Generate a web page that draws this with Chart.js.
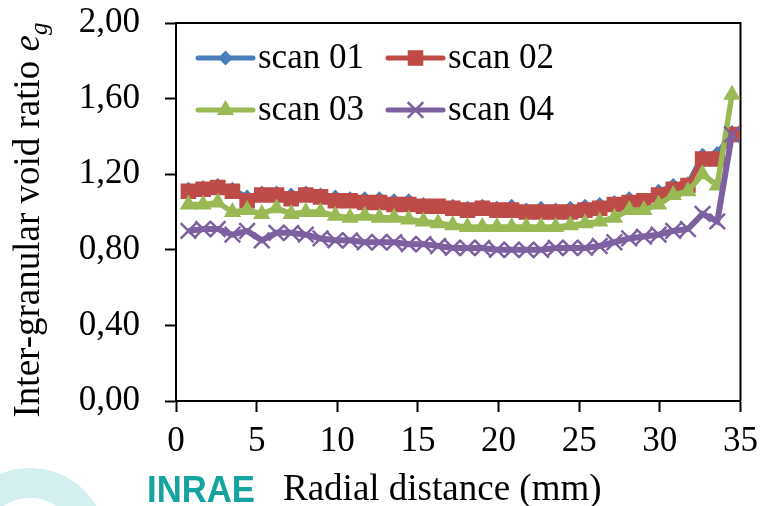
<!DOCTYPE html>
<html>
<head>
<meta charset="utf-8">
<title>Inter-granular void ratio</title>
<script src="https://cdn.jsdelivr.net/npm/chart.js@4.4.1/dist/chart.umd.min.js"></script>
<style>
    html, body { margin: 0; padding: 0; background: #ffffff; }
    #wrap { width: 767px; height: 506px; }
</style>
</head>
<body>
<div id="wrap"><canvas id="voidChart" width="767" height="506"></canvas></div>
<script>
// Radial distance of each ring (mm)
const radialDistance = [0.77, 1.68, 2.59, 3.50, 4.41, 5.32, 6.23, 7.14, 8.05, 8.96,
    9.88, 10.79, 11.70, 12.61, 13.52, 14.43, 15.34, 16.25, 17.16, 18.07,
    18.99, 19.90, 20.81, 21.72, 22.63, 23.54, 24.45, 25.36, 26.27, 27.18,
    28.10, 29.01, 29.92, 30.83, 31.74, 32.65, 33.56, 34.47];

// Inter-granular void ratio per scan
const scan01 = [1.12, 1.13, 1.14, 1.12, 1.08, 1.10, 1.10, 1.09, 1.10, 1.09,
    1.08, 1.07, 1.07, 1.07, 1.06, 1.06, 1.04, 1.03, 1.03, 1.02,
    1.03, 1.02, 1.03, 1.01, 1.02, 1.01, 1.02, 1.03, 1.04, 1.05,
    1.07, 1.06, 1.11, 1.14, 1.15, 1.30, 1.31, 1.42];
const scan02 = [1.11, 1.12, 1.13, 1.11, 1.06, 1.09, 1.09, 1.07, 1.09, 1.08,
    1.06, 1.06, 1.05, 1.05, 1.04, 1.04, 1.03, 1.03, 1.02, 1.01,
    1.02, 1.01, 1.01, 1.00, 1.00, 1.00, 1.00, 1.01, 1.02, 1.04,
    1.05, 1.06, 1.09, 1.12, 1.14, 1.28, 1.28, 1.41];
const scan03 = [1.04, 1.04, 1.05, 1.00, 1.01, 0.99, 1.02, 0.99, 1.00, 1.00,
    0.98, 0.97, 0.98, 0.97, 0.97, 0.96, 0.95, 0.94, 0.93, 0.92,
    0.92, 0.92, 0.92, 0.92, 0.92, 0.92, 0.93, 0.94, 0.95, 0.97,
    1.01, 1.01, 1.04, 1.09, 1.11, 1.20, 1.14, 1.62];
const scan04 = [0.90, 0.91, 0.91, 0.88, 0.90, 0.85, 0.89, 0.89, 0.88, 0.86,
    0.85, 0.85, 0.84, 0.84, 0.84, 0.83, 0.83, 0.82, 0.81, 0.81,
    0.81, 0.80, 0.80, 0.80, 0.80, 0.81, 0.81, 0.81, 0.82, 0.84,
    0.86, 0.87, 0.88, 0.90, 0.91, 0.99, 0.95, 1.41];

const seriesNames = ['scan 01', 'scan 02', 'scan 03', 'scan 04'];
const xTicks = [0, 5, 10, 15, 20, 25, 30, 35];
const yTicks = [0, 0.4, 0.8, 1.2, 1.6, 2.0];

// Excel-like series styles
const seriesStyles = [
    { color: '#4A7EBB', pointStyle: 'rectRot', radius: 7.5, border: 0, lineWidth: 5 },
    { color: '#BE4B48', pointStyle: 'rect', radius: 11, border: 0, lineWidth: 5 },
    { color: '#98B954', pointStyle: 'triangle', radius: 10, border: 0, lineWidth: 5.5 },
    { color: '#7D60A0', pointStyle: 'crossRot', radius: 11, border: 2.5, lineWidth: 6 }
];

const serif = '"Liberation Serif", "Times New Roman", serif';
const allSeries = [scan01, scan02, scan03, scan04];

const datasets = allSeries.map((values, i) => {
    const st = seriesStyles[i];
    return {
        label: seriesNames[i],
        data: values.map((v, k) => ({ x: radialDistance[k], y: v })),
        borderColor: st.color,
        backgroundColor: st.color,
        borderWidth: st.lineWidth,
        pointStyle: st.pointStyle,
        pointRadius: st.radius,
        pointBackgroundColor: st.color,
        pointBorderColor: st.color,
        pointBorderWidth: st.border,
        tension: 0,
        // later series are painted on top, like in Excel
        order: allSeries.length - i
    };
});

// White page, pale watermark arc of the logo
const backgroundPlugin = {
    id: 'background',
    beforeDraw(chart) {
        const ctx = chart.ctx;
        ctx.save();
        ctx.fillStyle = '#ffffff';
        ctx.fillRect(0, 0, chart.width, chart.height);
        ctx.strokeStyle = '#d3eff0';
        ctx.lineWidth = 30;
        ctx.beginPath();
        ctx.arc(30, 545, 62, Math.PI * 1.02, Math.PI * 1.93);
        ctx.stroke();
        ctx.restore();
    }
};

// Top and right borders of the plot area
const framePlugin = {
    id: 'frame',
    beforeDatasetsDraw(chart) {
        const { ctx, chartArea: a } = chart;
        ctx.save();
        ctx.strokeStyle = '#000000';
        ctx.lineWidth = 2;
        ctx.beginPath();
        ctx.moveTo(a.left, a.top);
        ctx.lineTo(a.right, a.top);
        ctx.lineTo(a.right, a.bottom);
        ctx.stroke();
        ctx.restore();
    }
};

// Legend inside the plot, two columns, line + marker like Excel
const legendPlugin = {
    id: 'insideLegend',
    afterDraw(chart) {
        const ctx = chart.ctx;
        const cols = [198, 388];
        const rows = [58, 110];
        ctx.save();
        chart.data.datasets.forEach((ds, i) => {
            const x0 = cols[i % 2];
            const x1 = x0 + 55;
            const y = rows[Math.floor(i / 2)];
            ctx.strokeStyle = ds.borderColor;
            ctx.lineWidth = 5;
            ctx.lineCap = 'round';
            ctx.beginPath();
            ctx.moveTo(x0, y);
            ctx.lineTo(x1, y);
            ctx.stroke();
            ctx.fillStyle = ds.pointBackgroundColor;
            ctx.strokeStyle = ds.pointBorderColor;
            ctx.lineWidth = ds.pointBorderWidth;
            ctx.lineCap = 'butt';
            Chart.helpers.drawPoint(ctx, {
                pointStyle: ds.pointStyle,
                radius: ds.pointRadius,
                rotation: 0,
                borderWidth: ds.pointBorderWidth
            }, (x0 + x1) / 2, y);
            ctx.fillStyle = '#000000';
            ctx.font = '35px ' + serif;
            ctx.textAlign = 'left';
            ctx.textBaseline = 'middle';
            ctx.fillText(ds.label, x1 + 5, y + 1);
        });
        ctx.restore();
    }
};

// Axis titles (the y title has an italic e with subscript g) and logo
const titlesPlugin = {
    id: 'titles',
    afterDraw(chart) {
        const ctx = chart.ctx;
        ctx.save();
        ctx.fillStyle = '#000000';
        ctx.textBaseline = 'alphabetic';
        ctx.textAlign = 'left';

        ctx.font = '37px ' + serif;
        ctx.fillText('Radial distance (mm)', 283, 500);

        const main = 'Inter-granular void ratio ';
        ctx.font = '37px ' + serif;
        const w1 = ctx.measureText(main).width;
        ctx.font = 'italic 37px ' + serif;
        const w2 = ctx.measureText('e').width;
        ctx.font = 'italic 25px ' + serif;
        const w3 = ctx.measureText('g').width;
        ctx.translate(39, 220);
        ctx.rotate(-Math.PI / 2);
        let x = -(w1 + w2 + w3) / 2;
        ctx.font = '37px ' + serif;
        ctx.fillText(main, x, 0);
        x += w1;
        ctx.font = 'italic 37px ' + serif;
        ctx.fillText('e', x, 0);
        x += w2;
        ctx.font = 'italic 25px ' + serif;
        ctx.fillText('g', x, 8);
        ctx.restore();

        // INRAE logo text
        ctx.save();
        ctx.fillStyle = '#14a39f';
        ctx.font = 'bold 36px "Liberation Sans", Arial, sans-serif';
        const lw = ctx.measureText('INRAE').width;
        ctx.translate(147, 502);
        ctx.scale(108 / lw, 1);
        ctx.fillText('INRAE', 0, 0);
        ctx.restore();
    }
};

const tickFont = { family: serif, size: 35 };

new Chart(document.getElementById('voidChart'), {
    type: 'line',
    data: { datasets: datasets },
    plugins: [backgroundPlugin, framePlugin, legendPlugin, titlesPlugin],
    options: {
        responsive: false,
        animation: false,
        devicePixelRatio: 1,
        events: [],
        layout: { padding: { top: 23, right: 25, left: 0, bottom: 0 } },
        plugins: {
            legend: { display: false },
            tooltip: { enabled: false }
        },
        scales: {
            x: {
                type: 'linear',
                min: 0,
                max: 35,
                afterBuildTicks: s => { s.ticks = xTicks.map(v => ({ value: v })); },
                afterFit: s => { s.height = 105; },
                grid: {
                    drawOnChartArea: false,
                    drawTicks: true,
                    tickLength: 11,
                    tickWidth: 2,
                    tickColor: '#000000'
                },
                border: { display: true, color: '#000000', width: 2 },
                ticks: {
                    color: '#000000',
                    font: tickFont,
                    padding: 9,
                    maxRotation: 0,
                    autoSkip: false
                }
            },
            y: {
                min: 0,
                max: 2,
                afterBuildTicks: s => { s.ticks = yTicks.map(v => ({ value: v })); },
                afterFit: s => {
                    s.width = 176;
                    // label padding should not push the plot area down
                    s.paddingTop = 0;
                    s.paddingBottom = 0;
                },
                grid: {
                    drawOnChartArea: false,
                    drawTicks: true,
                    tickLength: 11,
                    tickWidth: 2,
                    tickColor: '#000000'
                },
                border: { display: true, color: '#000000', width: 2 },
                ticks: {
                    color: '#000000',
                    font: tickFont,
                    padding: 25,
                    autoSkip: false,
                    callback: v => v.toFixed(2).replace('.', ',')
                }
            }
        }
    }
});
</script>
</body>
</html>
